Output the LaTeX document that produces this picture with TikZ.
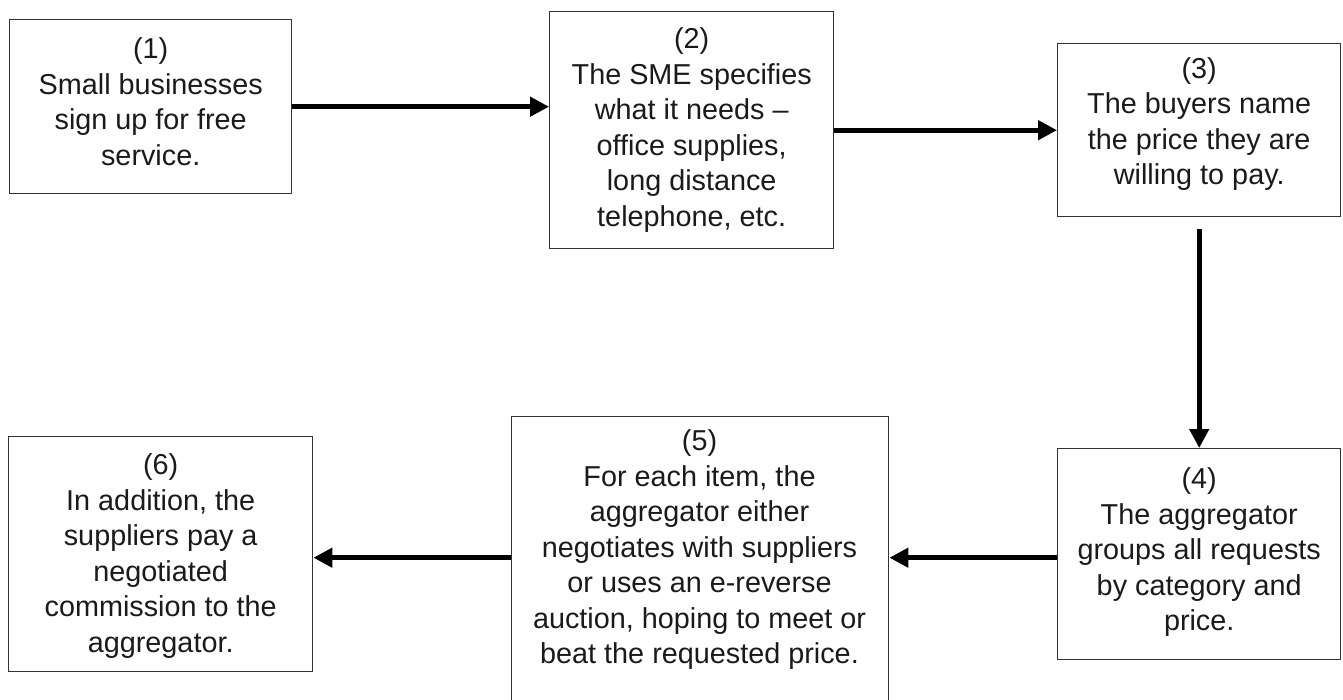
\documentclass[tikz,border=0pt]{standalone}
\usepackage{fontspec}
\setmainfont{Liberation Sans}
\usetikzlibrary{arrows.meta}
\definecolor{boxline}{HTML}{333333}
\definecolor{txtcol}{HTML}{1A1A1A}
\begin{document}
\begin{tikzpicture}[x=1pt,y=-1pt,
  box/.style={draw=boxline, line width=1.4pt, inner sep=0pt, anchor=north west},
  txt/.style={text=txtcol, align=center, font=\fontsize{28.8}{35.5}\selectfont, inner sep=0pt},
  flow/.style={line width=4.6pt, -{Triangle[length=19pt,width=19pt]}}]
\useasboundingbox (0,0) rectangle (1343,699);
% boxes
\node[box, minimum width=282pt, minimum height=174pt] (b1) at (9,19) {};
\node[box, minimum width=284pt, minimum height=237pt] (b2) at (549,11) {};
\node[box, minimum width=283pt, minimum height=173pt] (b3) at (1057,43) {};
\node[box, minimum width=283pt, minimum height=211pt] (b4) at (1057,448) {};
\node[box, minimum width=377pt, minimum height=292pt] (b5) at (511,416) {};
\node[box, minimum width=304pt, minimum height=235pt] (b6) at (8,436) {};
% texts
\node[txt] (t1) at ([yshift=5pt]b1.center) {(1)\\Small businesses\\sign up for free\\service.};
\node[txt] (t2) at (b2.center) {(2)\\The SME specifies\\what it needs --\\office supplies,\\long distance\\telephone, etc.};
\node[txt] (t3) at ([yshift=6pt]b3.center) {(3)\\The buyers name\\the price they are\\willing to pay.};
\node[txt] (t4) at ([yshift=2pt]b4.center) {(4)\\The aggregator\\groups all requests\\by category and\\price.};
\node[txt] (t5) at (699.5,550) {(5)\\For each item, the\\aggregator either\\negotiates with suppliers\\or uses an e-reverse\\auction, hoping to meet or\\beat the requested price.};
\node[txt] (t6) at ([yshift=-2pt]b6.center) {(6)\\In addition, the\\suppliers pay a\\negotiated\\commission to the\\aggregator.};
% connectors
\coordinate (s34) at ([yshift=-12pt]b3.south);
\coordinate (lvl) at ([yshift=-3.5pt]b4.west);
\draw[flow] (b1.east) -- (b1.east -| b2.west);
\draw[flow] (b2.east |- b3.west) -- (b3.west);
\draw[flow] (s34) -- (s34 |- b4.north);
\draw[flow] (lvl) -- (lvl -| b5.east);
\draw[flow] (lvl -| b5.west) -- (lvl -| b6.east);
\end{tikzpicture}
\end{document}
